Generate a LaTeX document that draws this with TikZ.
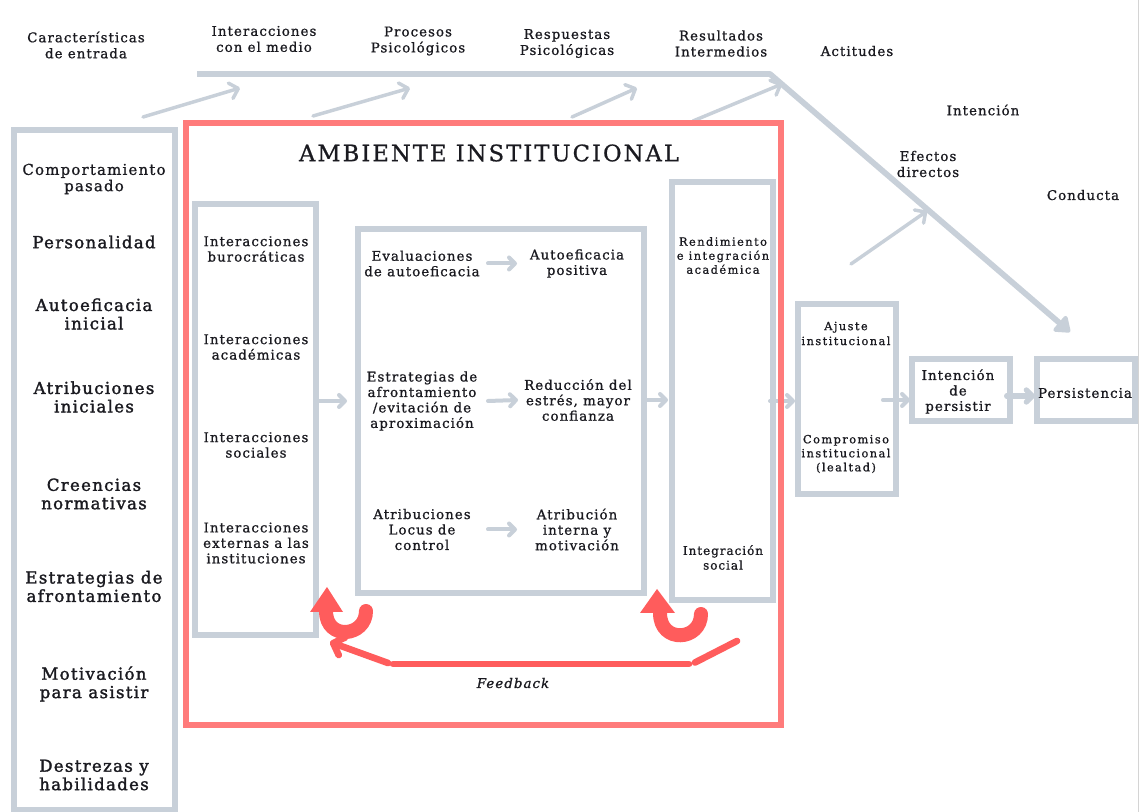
\documentclass[tikz,border=0pt]{standalone}
\usepackage{fontspec}
\setmainfont{DejaVu Serif}[LetterSpace=8,FakeBold=1.0]
\newfontfamily\leftfont{DejaVu Serif}[LetterSpace=8,FakeBold=1.8]
\newfontfamily\smallfont{DejaVu Serif}[LetterSpace=13,FakeBold=1.0]
\newfontfamily\titlefont{DejaVu Serif}[LetterSpace=9,FakeBold=0.8]
\usetikzlibrary{arrows.meta,calc,fit}
\definecolor{frame}{HTML}{C8D0D9}
\definecolor{envred}{HTML}{FF7B7B}
\definecolor{fbred}{HTML}{FF5C5C}
\definecolor{ink}{HTML}{1A1A20}
\definecolor{edge}{HTML}{D4D4D4}
\begin{document}
\begin{tikzpicture}[x=0.75pt,y=-0.75pt,
  every node/.style={inner sep=0pt,outer sep=0pt,text=ink,align=center},
  gbox/.style={draw=frame,line width=4.5pt},
  envbox/.style={draw=envred,line width=4.5pt},
  hdr/.style={font=\fontsize{10}{12}\selectfont},
  txt/.style={font=\fontsize{10}{11.6}\selectfont},
  lcol/.style={font=\leftfont\fontsize{12.4}{13.8}\selectfont},
  sml/.style={font=\smallfont\fontsize{8.5}{10.5}\selectfont},
  link/.style={draw=frame,line width=3pt,line cap=round,-{Straight Barb[length=4.5pt,width=9pt,round]}},
  thin/.style={draw=frame,line width=2.6pt,line cap=round,-{Straight Barb[length=6pt,width=12pt,round]}},
  trunk/.style={draw=frame,line width=4.3pt,line join=round,-{Triangle[length=12pt,width=17pt,round]}},
  fb/.style={draw=fbred,line width=5pt,line cap=round},
  curl/.style={draw=fbred,line width=10.5pt,line cap=round},
]
\useasboundingbox (0,0) rectangle (1143,812);
\fill[white] (0,0) rectangle (1143,812);
\draw[edge,line width=0.75pt] (1138.5,0) -- (1138.5,812);

% ---------- column frames ----------
\node[gbox,fit={(14,130.5) (174.5,810)}] (colL) {};
\node[gbox,fit={(195,204) (315.5,635)}] (inter) {};
\node[gbox,fit={(358,229) (644,593)}] (mid) {};
\node[gbox,fit={(672,182) (773,600.5)}] (rend) {};
\node[gbox,fit={(798,304.5) (895.5,494.5)}] (ajuste) {};
\node[gbox,fit={(911.5,359.5) (1009.5,421.5)}] (intp) {};
\node[gbox,fit={(1036.5,359.5) (1135,421.5)}] (pers) {};

% ---------- header labels ----------
\node[hdr] (h1) at (86,45) {Características\\de entrada};
\node[hdr] (h2) at (264,39) {Interacciones\\con el medio};
\node[hdr] (h3) at (418,41) {Procesos\\Psicológicos};
\node[hdr] (h4) at (567,43.5) {Respuestas\\Psicológicas};
\node[hdr] (h5) at (721,43.5) {Resultados\\Intermedios};
\node[hdr] (h6) at (857,51) {Actitudes};
\node[hdr] (h7) at (983,110) {Intención};
\node[hdr] (h8) at (928,164) {Efectos\\directos};
\node[hdr] (h9) at (1083,195) {Conducta};

% ---------- trunk line and slanted arrows ----------
\coordinate (t0) at (197,74);
\coordinate (t1) at (770,74);
\coordinate (t2) at (1070,332);
\draw[trunk] (t0) -- (t1) -- (t2);
\coordinate (a1s) at (143,117); \coordinate (a1e) at (240,88);
\coordinate (a2s) at (313,116); \coordinate (a2e) at (410,88);
\coordinate (a3s) at (572,117); \coordinate (a3e) at (637,88);
\coordinate (a4s) at (693,121); \coordinate (a4e) at (782,84);
\coordinate (a5s) at (851,264); \coordinate (a5e) at (927,211);
\draw[thin] (a1s) -- (a1e);
\draw[thin] (a2s) -- (a2e);
\draw[thin] (a3s) -- (a3e);
\draw[thin] (a4s) -- (a4e);
\draw[thin] (a5s) -- (a5e);

% ---------- left column ----------
\node[font=\fontsize{11.2}{12.2}\selectfont] (l1) at (94,179) {Comportamiento\\pasado};
\node[lcol] (l2) at (94,242) {Personalidad};
\node[lcol] (l3) at (94,314) {Autoeficacia\\inicial};
\node[lcol] (l4) at (94,397) {Atribuciones\\iniciales};
\node[lcol] (l5) at (94,494) {Creencias\\normativas};
\node[lcol] (l6) at (94,586.5) {Estrategias de\\afrontamiento};
\node[lcol] (l7) at (94,684) {Motivación\\para asistir};
\node[lcol] (l8) at (94,775) {Destrezas y\\habilidades};

% ---------- interactions ----------
\node[txt] (i1) at (256,249) {Interacciones\\burocráticas};
\node[txt] (i2) at (256,347) {Interacciones\\académicas};
\node[txt] (i3) at (256,445) {Interacciones\\sociales};
\node[txt] (i4) at (256,543) {Interacciones\\externas a las\\instituciones};

% ---------- psychological processes ----------
\node[txt] (m1L) at (422,263.5) {Evaluaciones\\de autoeficacia};
\node[txt] (m1R) at (577,263.5) {Autoeficacia\\positiva};
\node[txt] (m2L) at (422,401) {Estrategias de\\afrontamiento\\/evitación de\\aproximación};
\node[txt] (m2R) at (578,400) {Reducción del\\estrés, mayor\\confianza};
\node[txt] (m3L) at (422,529.5) {Atribuciones\\Locus de\\control};
\node[txt] (m3R) at (577,529.5) {Atribución\\interna y\\motivación};
\foreach \r in {1,2,3}
  \draw[link] ($(m\r L.center)+(66,0)$) -- ($(m\r R.center)+(-60,0)$);

% ---------- intermediate outcomes ----------
\node[sml] (r1) at (723,255.5) {Rendimiento\\e integración\\académica};
\node[font=\fontsize{9}{11}\selectfont] (r2) at (723,557.5) {Integración\\social};
\node[sml,font=\smallfont\fontsize{8.5}{11.2}\selectfont] (j1) at (846,333.5) {Ajuste\\institucional};
\node[sml] (j2) at (846,454) {Compromiso\\institucional\\(lealtad)};
\node[font=\fontsize{10}{11.6}\selectfont] (p1) at (958,391.5) {Intención\\de\\persistir};
\node[font=\fontsize{10}{12}\selectfont] (p2) at (1085,393) {Persistencia};

% ---------- links between stages ----------
\coordinate (prow) at (0,396);
\draw[link,shorten <=1.9pt,shorten >=8.25pt] (inter.east |- m2L) -- (mid.west |- m2L);
\draw[link,shorten <=2.25pt,shorten >=3pt] (mid.east |- m2R) -- (rend.west |- m2R);
\draw[link,shorten <=-2.25pt,shorten >=2.25pt] (rend.east |- m2L) -- (ajuste.west |- m2L);
\draw[link,shorten <=-9.4pt,shorten >=1.1pt] (ajuste.east |- m2R) -- (intp.west |- m2R);
\draw[link,line width=4pt,shorten <=-2.1pt,shorten >=1.1pt] (intp.east |- prow) -- (pers.west |- prow);

% ---------- institutional environment ----------
\node[envbox,fit={(185.5,123) (781,725)}] (env) {};
\node[font=\titlefont\fontsize{17}{20}\selectfont] (title) at (489,153) {AMBIENTE INSTITUCIONAL};

% ---------- feedback loop ----------
\draw[curl] (366,611) .. controls (366,637) and (326,641) .. (326,611);
\fill[fbred] (327,587) -- (310,612) -- (343,612) -- cycle;
\draw[curl] (701,614) .. controls (701,641) and (660,644) .. (660,613);
\fill[fbred] (657,589) -- (640,613) -- (675,613) -- cycle;
\coordinate (fb1) at (737,641);
\coordinate (fb2) at (695,662.5);
\coordinate (fb3) at (689,664);
\coordinate (fb4) at (393,664);
\coordinate (fb5) at (388,663);
\coordinate (fb6) at (330,642);
\draw[fb] (fb1) -- (fb2);
\draw[fb] (fb3) -- (fb4);
\draw[fb,-{Straight Barb[length=7pt,width=14pt,round]}] (fb5) -- (fb6);
\node[font=\itshape\fontsize{10}{12}\selectfont] (fbl) at (513,683) {Feedback};
\end{tikzpicture}
\end{document}
